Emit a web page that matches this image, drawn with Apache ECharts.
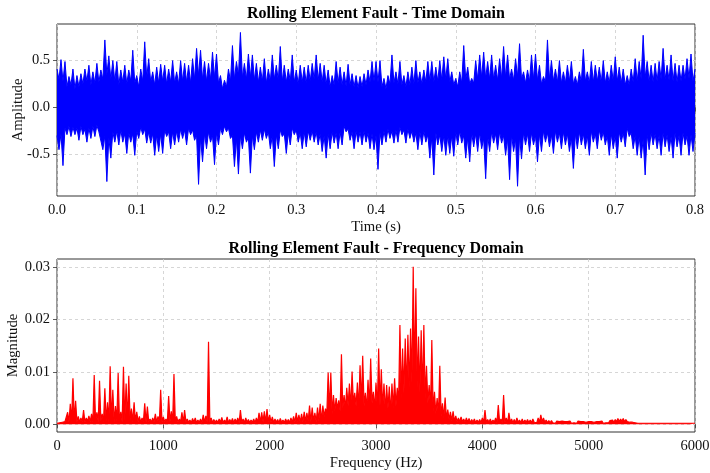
<!DOCTYPE html>
<html>
<head>
<meta charset="utf-8">
<script src="https://cdn.jsdelivr.net/npm/echarts@6/dist/echarts.min.js"></script>
<style>
html,body{margin:0;padding:0;background:#fff;}
#chart{width:710px;height:473px;}
</style>
</head>
<body>
<div id="chart"></div>
<script>
// ---- Time domain, every 0.005 s
// upper spikes (at t) and the notch depth between them (at t + half step)
const timeStep = 0.005;
const upperEnv = [
 0.41,0.51,0.49,0.33,0.41,0.34,0.36,0.41,0.45,0.38,
 0.47,0.40,0.72,0.55,0.50,0.49,0.40,0.45,0.40,0.61,
 0.34,0.41,0.70,0.52,0.38,0.43,0.46,0.45,0.41,0.50,
 0.38,0.50,0.47,0.45,0.52,0.63,0.61,0.49,0.47,0.59,
 0.57,0.34,0.29,0.41,0.66,0.49,0.80,0.47,0.57,0.56,
 0.47,0.43,0.52,0.41,0.56,0.45,0.65,0.45,0.41,0.56,
 0.40,0.45,0.43,0.45,0.47,0.56,0.47,0.45,0.40,0.34,
 0.49,0.43,0.38,0.46,0.36,0.34,0.33,0.36,0.40,0.49,
 0.49,0.50,0.31,0.34,0.56,0.38,0.49,0.34,0.38,0.43,
 0.50,0.38,0.40,0.49,0.49,0.43,0.50,0.54,0.52,0.38,
 0.31,0.38,0.66,0.43,0.31,0.50,0.56,0.59,0.49,0.56,
 0.45,0.52,0.65,0.56,0.41,0.52,0.68,0.38,0.40,0.56,
 0.57,0.45,0.33,0.72,0.50,0.41,0.50,0.38,0.45,0.49,
 0.33,0.38,0.62,0.38,0.49,0.45,0.43,0.50,0.38,0.45,
 0.54,0.43,0.41,0.34,0.41,0.52,0.49,0.77,0.49,0.45,
 0.47,0.49,0.63,0.45,0.56,0.47,0.45,0.45,0.52,0.57,0.41
];
const upperNotch = [
 0.30,0.28,0.22,0.24,0.20,0.22,0.25,0.28,0.24,0.26,
 0.27,0.30,0.35,0.30,0.28,0.24,0.27,0.25,0.28,0.26,
 0.22,0.28,0.32,0.27,0.24,0.26,0.28,0.25,0.27,0.26,
 0.25,0.28,0.27,0.26,0.30,0.34,0.30,0.28,0.30,0.32,
 0.26,0.20,0.22,0.28,0.30,0.34,0.32,0.30,0.32,0.29,
 0.27,0.28,0.26,0.28,0.30,0.29,0.28,0.27,0.28,0.27,
 0.25,0.27,0.26,0.28,0.30,0.29,0.27,0.25,0.22,0.24,
 0.26,0.24,0.23,0.24,0.22,0.21,0.22,0.24,0.27,0.28,
 0.27,0.22,0.20,0.25,0.26,0.25,0.24,0.22,0.24,0.25,
 0.26,0.25,0.27,0.28,0.27,0.28,0.29,0.30,0.27,0.24,
 0.22,0.26,0.30,0.25,0.26,0.30,0.32,0.31,0.30,0.30,
 0.29,0.31,0.32,0.30,0.29,0.33,0.30,0.26,0.28,0.30,
 0.29,0.25,0.27,0.30,0.28,0.27,0.26,0.26,0.28,0.25,
 0.24,0.27,0.28,0.26,0.27,0.28,0.27,0.26,0.26,0.28,
 0.28,0.26,0.24,0.24,0.27,0.28,0.30,0.32,0.28,0.27,
 0.28,0.30,0.30,0.29,0.28,0.27,0.28,0.30,0.31,0.28
];
// lower notch level (at t) and lower spikes (at t + half step)
const lowerNotch = [
 -0.30,-0.28,-0.22,-0.20,-0.21,-0.22,-0.20,-0.23,-0.22,-0.20,
 -0.19,-0.25,-0.30,-0.32,-0.26,-0.25,-0.24,-0.28,-0.27,-0.28,
 -0.25,-0.21,-0.23,-0.26,-0.28,-0.29,-0.28,-0.24,-0.26,-0.26,
 -0.25,-0.23,-0.24,-0.22,-0.24,-0.30,-0.32,-0.28,-0.26,-0.30,
 -0.27,-0.22,-0.20,-0.22,-0.30,-0.33,-0.30,-0.27,-0.32,-0.30,
 -0.26,-0.24,-0.23,-0.26,-0.30,-0.29,-0.24,-0.28,-0.27,-0.22,
 -0.24,-0.27,-0.26,-0.25,-0.25,-0.26,-0.28,-0.30,-0.28,-0.26,
 -0.27,-0.26,-0.20,-0.23,-0.26,-0.25,-0.26,-0.25,-0.27,-0.28,
 -0.30,-0.27,-0.25,-0.23,-0.25,-0.24,-0.21,-0.24,-0.23,-0.25,
 -0.27,-0.26,-0.25,-0.29,-0.32,-0.27,-0.29,-0.30,-0.30,-0.30,
 -0.26,-0.25,-0.30,-0.32,-0.27,-0.28,-0.27,-0.33,-0.30,-0.26,
 -0.28,-0.26,-0.30,-0.33,-0.29,-0.34,-0.31,-0.27,-0.28,-0.27,
 -0.30,-0.28,-0.25,-0.27,-0.29,-0.25,-0.27,-0.26,-0.28,-0.32,
 -0.28,-0.26,-0.28,-0.30,-0.25,-0.28,-0.24,-0.26,-0.30,-0.28,
 -0.30,-0.26,-0.27,-0.22,-0.27,-0.30,-0.31,-0.34,-0.29,-0.27,
 -0.28,-0.30,-0.27,-0.29,-0.31,-0.27,-0.30,-0.27,-0.30,-0.29,-0.27
];
const lowerEnv = [
 -0.45,-0.62,-0.29,-0.31,-0.29,-0.35,-0.29,-0.37,-0.33,-0.31,
 -0.26,-0.45,-0.79,-0.54,-0.37,-0.40,-0.37,-0.49,-0.37,-0.51,
 -0.33,-0.29,-0.38,-0.38,-0.51,-0.47,-0.49,-0.31,-0.44,-0.40,
 -0.37,-0.33,-0.40,-0.29,-0.35,-0.82,-0.58,-0.44,-0.37,-0.61,
 -0.40,-0.29,-0.26,-0.33,-0.63,-0.71,-0.44,-0.37,-0.70,-0.45,
 -0.37,-0.35,-0.33,-0.44,-0.63,-0.44,-0.31,-0.49,-0.40,-0.29,
 -0.37,-0.44,-0.42,-0.35,-0.37,-0.40,-0.47,-0.54,-0.44,-0.38,
 -0.44,-0.40,-0.26,-0.35,-0.44,-0.37,-0.40,-0.37,-0.44,-0.45,
 -0.66,-0.40,-0.37,-0.33,-0.38,-0.37,-0.29,-0.38,-0.33,-0.37,
 -0.45,-0.40,-0.37,-0.54,-0.72,-0.40,-0.47,-0.51,-0.49,-0.52,
 -0.40,-0.38,-0.54,-0.58,-0.42,-0.47,-0.44,-0.76,-0.47,-0.38,
 -0.45,-0.38,-0.51,-0.77,-0.47,-0.84,-0.55,-0.40,-0.47,-0.40,
 -0.58,-0.47,-0.37,-0.42,-0.49,-0.37,-0.44,-0.40,-0.47,-0.65,
 -0.44,-0.40,-0.44,-0.51,-0.37,-0.44,-0.35,-0.40,-0.51,-0.44,
 -0.54,-0.37,-0.42,-0.31,-0.44,-0.51,-0.54,-0.72,-0.45,-0.40,
 -0.44,-0.51,-0.42,-0.47,-0.54,-0.42,-0.51,-0.40,-0.51,-0.47
];

// ---- Frequency domain, every 25 Hz:
// peak magnitude (at f) and the level between peaks (at f + half step)
const freqStep = 25;
const specPeak = [
 0.0002,0.0003,0.0004,0.0005,0.0023,0.0039,0.0088,0.0045,0.0015,0.0012,
 0.0027,0.0012,0.0016,0.0020,0.0094,0.0023,0.0083,0.0020,0.0069,0.0042,
 0.0111,0.0066,0.0035,0.0098,0.0024,0.0110,0.0078,0.0093,0.0030,0.0042,
 0.0024,0.0015,0.0012,0.0040,0.0034,0.0010,0.0012,0.0020,0.0015,0.0066,
 0.0014,0.0010,0.0054,0.0025,0.0096,0.0015,0.0010,0.0023,0.0027,0.0010,
 0.0008,0.0011,0.0012,0.0008,0.0010,0.0018,0.0016,0.0158,0.0012,0.0009,
 0.0008,0.0010,0.0013,0.0008,0.0014,0.0009,0.0011,0.0010,0.0012,0.0027,
 0.0010,0.0012,0.0009,0.0008,0.0010,0.0012,0.0022,0.0023,0.0025,0.0029,
 0.0018,0.0014,0.0010,0.0009,0.0011,0.0008,0.0010,0.0009,0.0012,0.0015,
 0.0022,0.0018,0.0020,0.0024,0.0022,0.0036,0.0032,0.0022,0.0032,0.0039,
 0.0036,0.0030,0.0099,0.0099,0.0056,0.0050,0.0046,0.0134,0.0056,0.0070,
 0.0078,0.0101,0.0060,0.0080,0.0113,0.0131,0.0060,0.0085,0.0126,0.0062,
 0.0080,0.0145,0.0105,0.0078,0.0075,0.0072,0.0078,0.0088,0.0070,0.0190,
 0.0145,0.0164,0.0171,0.0183,0.0301,0.0260,0.0168,0.0180,0.0190,0.0112,
 0.0075,0.0161,0.0062,0.0050,0.0112,0.0040,0.0051,0.0028,0.0024,0.0025,
 0.0016,0.0012,0.0014,0.0010,0.0012,0.0011,0.0009,0.0010,0.0008,0.0009,
 0.0012,0.0027,0.0009,0.0010,0.0008,0.0012,0.0037,0.0010,0.0056,0.0012,
 0.0022,0.0010,0.0009,0.0012,0.0008,0.0010,0.0008,0.0009,0.0008,0.0010,
 0.0007,0.0012,0.0018,0.0012,0.0008,0.0007,0.0007,0.0006,0.0006,0.0005,
 0.0006,0.0005,0.0005,0.0006,0.0005,0.0005,0.0006,0.0005,0.0005,0.0004,
 0.0005,0.0005,0.0004,0.0005,0.0005,0.0006,0.0005,0.0006,0.0007,0.0008,
 0.0009,0.0011,0.0010,0.0011,0.0009,0.0008,0.0006,0.0005,0.0004,0.0003,
 0.0003,0.0003,0.0003,0.0003,0.0003,0.0002,0.0003,0.0002,0.0002,0.0002,
 0.0002,0.0002,0.0002,0.0002,0.0002,0.0002,0.0002,0.0002,0.0002,0.0002,
 0.0002
];
const specFloor = [
 0.0002,0.0002,0.0002,0.0003,0.0004,0.0005,0.0006,0.0005,0.0004,0.0005,
 0.0004,0.0006,0.0005,0.0004,0.0006,0.0005,0.0007,0.0005,0.0006,0.0005,
 0.0006,0.0005,0.0007,0.0006,0.0005,0.0007,0.0006,0.0008,0.0005,0.0006,
 0.0005,0.0004,0.0005,0.0004,0.0005,0.0004,0.0005,0.0004,0.0005,0.0004,
 0.0005,0.0004,0.0005,0.0004,0.0006,0.0004,0.0005,0.0004,0.0005,0.0004,
 0.0003,0.0004,0.0003,0.0004,0.0003,0.0004,0.0004,0.0005,0.0003,0.0004,
 0.0003,0.0004,0.0003,0.0004,0.0003,0.0004,0.0003,0.0004,0.0003,0.0004,
 0.0003,0.0004,0.0003,0.0004,0.0003,0.0004,0.0004,0.0005,0.0004,0.0005,
 0.0004,0.0003,0.0004,0.0003,0.0004,0.0003,0.0004,0.0003,0.0004,0.0004,
 0.0005,0.0004,0.0005,0.0005,0.0006,0.0005,0.0006,0.0005,0.0007,0.0006,
 0.0015,0.0020,0.0025,0.0020,0.0025,0.0030,0.0025,0.0030,0.0030,0.0035,
 0.0030,0.0040,0.0035,0.0030,0.0040,0.0035,0.0030,0.0035,0.0040,0.0030,
 0.0030,0.0035,0.0030,0.0025,0.0030,0.0020,0.0030,0.0035,0.0040,0.0050,
 0.0060,0.0065,0.0070,0.0080,0.0090,0.0070,0.0060,0.0055,0.0050,0.0040,
 0.0030,0.0025,0.0020,0.0018,0.0015,0.0012,0.0010,0.0009,0.0007,0.0006,
 0.0005,0.0005,0.0005,0.0004,0.0004,0.0003,0.0004,0.0003,0.0004,0.0003,
 0.0004,0.0003,0.0004,0.0003,0.0004,0.0003,0.0004,0.0003,0.0004,0.0003,
 0.0004,0.0003,0.0003,0.0004,0.0003,0.0003,0.0004,0.0003,0.0003,0.0004,
 0.0003,0.0004,0.0005,0.0004,0.0003,0.0003,0.0003,0.0002,0.0003,0.0002,
 0.0003,0.0002,0.0003,0.0002,0.0003,0.0002,0.0003,0.0002,0.0002,0.0003,
 0.0002,0.0003,0.0002,0.0002,0.0003,0.0002,0.0003,0.0003,0.0004,0.0004,
 0.0005,0.0005,0.0006,0.0005,0.0005,0.0004,0.0004,0.0003,0.0002,0.0002,
 0.0002,0.0002,0.0002,0.0002,0.0002,0.0002,0.0002,0.0002,0.0002,0.0002,
 0.0002,0.0002,0.0002,0.0002,0.0002,0.0002,0.0002,0.0002,0.0002,0.0002
];

// ---- Ticks
const timeTicks = [0, 0.1, 0.2, 0.3, 0.4, 0.5, 0.6, 0.7, 0.8];
const ampTicks = [-0.5, 0, 0.5];
const freqTicks = [0, 1000, 2000, 3000, 4000, 5000, 6000];
const magTicks = [0, 0.01, 0.02, 0.03];

const titles = ['Rolling Element Fault - Time Domain', 'Rolling Element Fault - Frequency Domain'];

// build series data
const topData = [], bottomData = [];
for (let i = 0; i < upperEnv.length; i++) {
  topData.push([i * timeStep, upperEnv[i]]);
  if (i < upperNotch.length) topData.push([i * timeStep + timeStep / 2, upperNotch[i]]);
}
for (let i = 0; i < lowerNotch.length; i++) {
  bottomData.push([i * timeStep, lowerNotch[i]]);
  if (i < lowerEnv.length) bottomData.push([i * timeStep + timeStep / 2, lowerEnv[i]]);
}
const freqData = [];
for (let i = 0; i < specPeak.length; i++) {
  freqData.push([i * freqStep, specPeak[i]]);
  if (i < specFloor.length) freqData.push([i * freqStep + freqStep / 2, specFloor[i]]);
}

const FONT = '"Liberation Serif", "Times New Roman", serif';
const TXT = '#111';
const FRAME = '#333';
const BLUE = '#0000ff';
const RED = '#ff0000';
const gridLine = { show: true, lineStyle: { color: '#cccccc', width: 0.8, type: [3, 3] } };
const tick = (vals) => ({ show: true, customValues: vals, length: 4, inside: false, lineStyle: { color: FRAME, width: 0.8 } });
const label = (vals, fmt, margin) => ({ customValues: vals, formatter: fmt, fontFamily: FONT, fontSize: 14.5, color: TXT, margin: margin });
const nameStyle = { fontFamily: FONT, fontSize: 14.7, color: TXT };

const chart = echarts.init(document.getElementById('chart'), null, { renderer: 'canvas' });
chart.setOption({
  animation: false,
  backgroundColor: '#ffffff',
  title: [
    { text: titles[0], left: 376, top: 6, padding: 0, textAlign: 'center',
      textStyle: { fontFamily: FONT, fontSize: 16, fontWeight: 'bold', color: '#000' } },
    { text: titles[1], left: 376, top: 241, padding: 0, textAlign: 'center',
      textStyle: { fontFamily: FONT, fontSize: 16, fontWeight: 'bold', color: '#000' } }
  ],
  grid: [
    { left: 57, right: 15, top: 24, height: 172, show: true, borderColor: FRAME, borderWidth: 1,
      backgroundColor: 'transparent', containLabel: false, outerBoundsMode: 'none' },
    { left: 57, right: 15, top: 259, height: 173, show: true, borderColor: FRAME, borderWidth: 1,
      backgroundColor: 'transparent', containLabel: false, outerBoundsMode: 'none' }
  ],
  xAxis: [
    { gridIndex: 0, type: 'value', min: 0, max: 0.8,
      axisLine: { show: false }, axisTick: tick(timeTicks),
      axisLabel: label(timeTicks, v => v.toFixed(1), 7),
      splitLine: gridLine,
      name: 'Time (s)', nameLocation: 'middle', nameGap: 24, nameMoveOverlap: false, nameTextStyle: nameStyle },
    { gridIndex: 1, type: 'value', min: 0, max: 6000,
      axisLine: { show: false }, axisTick: tick(freqTicks),
      axisLabel: label(freqTicks, v => String(Math.round(v)), 7),
      splitLine: gridLine,
      name: 'Frequency (Hz)', nameLocation: 'middle', nameGap: 24, nameMoveOverlap: false, nameTextStyle: nameStyle }
  ],
  yAxis: [
    { gridIndex: 0, type: 'value', min: -0.944, max: 0.89,
      axisLine: { show: false }, axisTick: tick(ampTicks),
      axisLabel: label(ampTicks, v => v.toFixed(1), 7),
      splitLine: gridLine,
      name: 'Amplitude', nameLocation: 'middle', nameGap: 31, nameRotate: 90, nameMoveOverlap: false, nameTextStyle: nameStyle },
    { gridIndex: 1, type: 'value', min: -0.00147, max: 0.0316,
      axisLine: { show: false }, axisTick: tick(magTicks),
      axisLabel: label(magTicks, v => v.toFixed(2), 7),
      splitLine: gridLine,
      name: 'Magnitude', nameLocation: 'middle', nameGap: 36, nameRotate: 90, nameMoveOverlap: false, nameTextStyle: nameStyle }
  ],
  series: [
    { type: 'line', xAxisIndex: 0, yAxisIndex: 0, data: topData, showSymbol: false, symbol: 'none',
      lineStyle: { color: BLUE, width: 1 }, areaStyle: { color: BLUE, opacity: 1, origin: -0.1 }, clip: true, z: 3 },
    { type: 'line', xAxisIndex: 0, yAxisIndex: 0, data: bottomData, showSymbol: false, symbol: 'none',
      lineStyle: { color: BLUE, width: 1 }, areaStyle: { color: BLUE, opacity: 1, origin: 0.1 }, clip: true, z: 3 },
    { type: 'line', xAxisIndex: 1, yAxisIndex: 1, data: freqData, showSymbol: false, symbol: 'none',
      lineStyle: { color: RED, width: 1.2 }, areaStyle: { color: RED, opacity: 1, origin: 0 }, clip: true, z: 3 }
  ]
});
</script>
</body>
</html>
